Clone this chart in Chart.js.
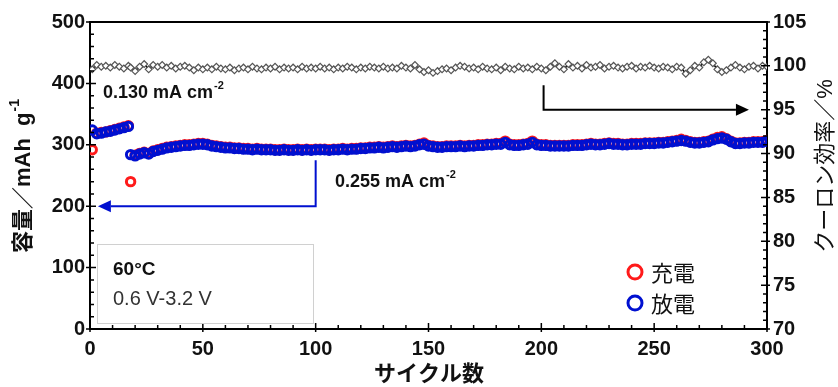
<!DOCTYPE html>
<html>
<head>
<meta charset="utf-8">
<script src="https://cdn.jsdelivr.net/npm/chart.js@4/dist/chart.umd.min.js"></script>
<style>
  html, body { margin: 0; padding: 0; background: #fff; }
  #wrap { width: 838px; height: 387px; }
</style>
</head>
<body>
<div id="wrap"><canvas id="cycleChart" width="838" height="387"></canvas></div>
<script>
// サイクル数（2サイクルおきに読み取り）
const cycles = [1, 3, 5, 7, 9, 11, 13, 15, 17,
  18, 20, 22, 24, 26, 28, 30, 32, 34, 36, 38, 40, 42, 44, 46, 48, 50,
  52, 54, 56, 58, 60, 62, 64, 66, 68, 70, 72, 74, 76, 78, 80, 82, 84, 86, 88, 90, 92, 94, 96, 98, 100,
  102, 104, 106, 108, 110, 112, 114, 116, 118, 120, 122, 124, 126, 128, 130, 132, 134, 136, 138, 140, 142, 144, 146, 148, 150,
  152, 154, 156, 158, 160, 162, 164, 166, 168, 170, 172, 174, 176, 178, 180, 182, 184, 186, 188, 190, 192, 194, 196, 198, 200,
  202, 204, 206, 208, 210, 212, 214, 216, 218, 220, 222, 224, 226, 228, 230, 232, 234, 236, 238, 240, 242, 244, 246, 248, 250,
  252, 254, 256, 258, 260, 262, 264, 266, 268, 270, 272, 274, 276, 278, 280, 282, 284, 286, 288, 290, 292, 294, 296, 298, 300];

// 充電容量 (mAh/g)
const chargeCap = [292, 319, 320, 321, 323, 325, 327, 329, 331,
  240, 283, 286, 288, 286, 290, 292, 294, 296, 297, 298, 299, 300, 300, 301, 302, 302,
  301, 299, 298, 297, 296, 296, 295, 295, 294, 294, 293, 294, 293, 293, 293, 292, 292, 293, 292, 292, 293, 292, 293, 292, 293,
  293, 293, 292, 293, 293, 294, 293, 294, 294, 295, 295, 296, 296, 297, 296, 297, 298, 297, 298, 299, 298, 299, 301, 303, 299,
  298, 297, 297, 298, 298, 298, 299, 298, 299, 299, 300, 300, 301, 301, 302, 302, 306, 301, 300, 300, 301, 302, 306, 301, 300,
  300, 299, 299, 299, 299, 299, 300, 300, 300, 301, 302, 301, 301, 302, 303, 302, 302, 301, 301, 302, 302, 302, 303, 303, 303,
  304, 304, 305, 306, 307, 309, 307, 305, 304, 304, 305, 306, 309, 312, 313, 310, 306, 303, 303, 304, 304, 305, 305, 305, 307];

// 放電容量 (mAh/g)
const dischargeCap = [324, 318, 319, 321, 322, 324, 326, 328, 330,
  284, 282, 285, 287, 285, 289, 291, 293, 295, 296, 297, 298, 299, 299, 300, 301, 301,
  300, 298, 297, 296, 295, 295, 294, 294, 293, 293, 292, 293, 292, 292, 292, 291, 291, 292, 291, 291, 292, 291, 292, 291, 292,
  292, 292, 291, 292, 292, 293, 292, 293, 293, 294, 294, 295, 295, 296, 295, 296, 297, 296, 297, 298, 297, 298, 300, 301, 298,
  297, 296, 296, 297, 297, 297, 298, 297, 298, 298, 299, 299, 300, 300, 301, 301, 304, 300, 299, 299, 300, 301, 304, 300, 299,
  299, 298, 298, 298, 298, 298, 299, 299, 299, 300, 301, 300, 300, 301, 302, 301, 301, 300, 300, 301, 301, 301, 302, 302, 302,
  303, 303, 304, 305, 306, 307, 306, 304, 303, 303, 304, 305, 308, 310, 311, 309, 305, 302, 302, 303, 303, 304, 304, 304, 306];

// クーロン効率 (%)
const coulombEff = [99.6, 100.1, 99.9, 100.0, 99.8, 100.1, 99.9, 99.7, 100.0,
  99.8, 99.4, 99.9, 100.2, 99.6, 100.1, 99.9, 100.1, 99.8, 100.0, 99.7, 99.9, 100.0, 99.8, 99.5, 99.8, 99.6,
  99.8, 99.6, 99.9, 99.7, 99.6, 99.8, 99.5, 99.7, 99.8, 99.6, 99.9, 99.7, 99.6, 99.8, 99.7, 99.9, 99.6, 99.8, 99.7, 99.8, 99.6, 99.9, 99.7, 99.8, 99.7,
  99.9, 99.7, 99.8, 99.6, 99.8, 99.7, 99.9, 99.8, 99.6, 99.8, 99.7, 99.9, 99.8, 99.7, 99.9, 99.7, 99.8, 99.7, 100.0, 99.8, 99.7, 100.1, 99.6, 99.3, 99.5,
  99.2, 99.4, 99.6, 99.7, 99.5, 99.8, 100.0, 99.9, 99.7, 99.8, 99.6, 99.9, 99.7, 99.6, 99.8, 99.5, 99.9, 99.7, 99.6, 99.9, 99.7, 99.8, 99.6, 99.9, 99.7,
  99.5, 99.9, 100.3, 99.9, 99.6, 100.2, 99.8, 100.0, 99.7, 100.1, 99.8, 99.9, 100.1, 99.7, 99.9, 100.0, 99.8, 99.7, 99.9, 100.0, 99.7, 99.9, 99.8, 100.0, 99.8,
  99.7, 99.9, 99.8, 99.6, 99.9, 99.8, 99.1, 99.5, 100.0, 99.8, 100.4, 100.7, 100.3, 99.6, 99.3, 99.5, 99.8, 100.1, 99.8, 99.6, 99.9, 100.0, 99.7, 100.0, 99.9];

const xTicks = [0, 50, 100, 150, 200, 250, 300];
const capTicks = [0, 100, 200, 300, 400, 500];
const ceTicks = [70, 75, 80, 85, 90, 95, 100, 105];

const LATIN = '"Liberation Sans", Arial, "Noto Sans CJK JP"';
const JP = '"Liberation Sans", "Noto Sans CJK JP"';
const BLUE = '#0010d0';
const RED = '#ff1a1a';

const toPoints = arr => cycles.map((c, i) => ({ x: c, y: arr[i] }));

// 上辺の枠・小目盛り・注釈・軸タイトル
const decorPlugin = {
  id: 'decor',
  afterDraw(chart) {
    const { ctx, chartArea: a, scales } = chart;
    const xs = scales.x, yl = scales.y, yr = scales.y2;
    ctx.save();
    ctx.strokeStyle = '#000';
    ctx.lineWidth = 2;
    ctx.beginPath();
    ctx.moveTo(a.left - 1, a.top);
    ctx.lineTo(a.right + 1, a.top);
    ctx.stroke();

    // 目盛り
    ctx.lineWidth = 1.5;
    ctx.beginPath();
    for (let v = 0; v <= 300; v += 10) {
      const px = xs.getPixelForValue(v);
      const major = v % 50 === 0;
      ctx.moveTo(px, a.bottom + (major ? 3 : 0));
      ctx.lineTo(px, a.bottom - (major ? 6 : 4));
    }
    for (let v = 0; v <= 500; v += 20) {
      const py = yl.getPixelForValue(v);
      const major = v % 100 === 0;
      ctx.moveTo(a.left - (major ? 4 : 0), py);
      ctx.lineTo(a.left + (major ? 6 : 4), py);
    }
    for (let v = 70; v <= 105; v += 1) {
      const py = yr.getPixelForValue(v);
      const major = v % 5 === 0;
      ctx.moveTo(a.right + (major ? 3 : 0), py);
      ctx.lineTo(a.right - (major ? 6 : 4), py);
    }
    ctx.stroke();

    // 矢印
    function arrow(pts, color, dir) {
      ctx.strokeStyle = color;
      ctx.fillStyle = color;
      ctx.lineWidth = 2;
      const tip = pts[pts.length - 1];
      const head = 13;
      ctx.beginPath();
      ctx.moveTo(pts[0][0], pts[0][1]);
      for (let i = 1; i < pts.length - 1; i++) ctx.lineTo(pts[i][0], pts[i][1]);
      ctx.lineTo(tip[0] - dir * head, tip[1]);
      ctx.stroke();
      ctx.beginPath();
      ctx.moveTo(tip[0], tip[1]);
      ctx.lineTo(tip[0] - dir * head, tip[1] - 6);
      ctx.lineTo(tip[0] - dir * head, tip[1] + 6);
      ctx.closePath();
      ctx.fill();
    }
    arrow([
      [xs.getPixelForValue(100), yl.getPixelForValue(275)],
      [xs.getPixelForValue(100), yl.getPixelForValue(200)],
      [xs.getPixelForValue(3.5), yl.getPixelForValue(200)]
    ], BLUE, -1);
    arrow([
      [xs.getPixelForValue(201), yr.getPixelForValue(97.8)],
      [xs.getPixelForValue(201), yr.getPixelForValue(95)],
      [xs.getPixelForValue(292), yr.getPixelForValue(95)]
    ], '#000', 1);

    // 上付き文字つきテキスト
    function supText(x, y, base, sup, size, draw) {
      ctx.font = `bold ${size}px ${JP}`;
      const w1 = ctx.measureText(base).width;
      ctx.font = `bold ${Math.round(size * 0.62)}px ${LATIN}`;
      const w2 = ctx.measureText(sup).width;
      if (draw !== false) {
        ctx.textAlign = 'left';
        ctx.textBaseline = 'middle';
        ctx.font = `bold ${size}px ${JP}`;
        ctx.fillText(base, x, y);
        ctx.font = `bold ${Math.round(size * 0.62)}px ${LATIN}`;
        ctx.fillText(sup, x + w1 + 1, y - size * 0.38);
      }
      return w1 + 1 + w2;
    }
    ctx.fillStyle = '#111';
    supText(103, 93, '0.130 mA cm', '-2', 18);
    supText(335, 182, '0.255 mA cm', '-2', 18);

    // 条件ボックス
    ctx.strokeStyle = '#d0d0d0';
    ctx.lineWidth = 1;
    ctx.strokeRect(97.5, 244.5, 216, 79);
    ctx.fillStyle = '#111';
    ctx.textAlign = 'left';
    ctx.textBaseline = 'middle';
    ctx.font = `bold 19px ${LATIN}`;
    ctx.fillText('60°C', 113, 270);
    ctx.fillStyle = '#333';
    ctx.font = `20px ${LATIN}`;
    ctx.fillText('0.6 V-3.2 V', 113, 299);

    // 凡例
    [[RED, '充電', 272], [BLUE, '放電', 303]].forEach(([c, t, y]) => {
      ctx.strokeStyle = c;
      ctx.lineWidth = 3;
      ctx.beginPath();
      ctx.arc(635, y, 7, 0, Math.PI * 2);
      ctx.stroke();
      ctx.fillStyle = '#111';
      ctx.font = `22px "Noto Sans CJK JP"`;
      ctx.fillText(t, 651, y + 1);
    });

    // 軸タイトル
    ctx.fillStyle = '#111';
    ctx.save();
    ctx.translate(24, 176);
    ctx.rotate(-Math.PI / 2);
    const tw = supText(0, 0, '容量／mAh  g', '-1', 22, false);
    supText(-tw / 2, 0, '容量／mAh  g', '-1', 22);
    ctx.restore();

    ctx.save();
    ctx.translate(826, 166);
    ctx.rotate(-Math.PI / 2);
    ctx.textAlign = 'center';
    ctx.textBaseline = 'middle';
    ctx.font = `22px ${JP}`;
    ctx.fillText('クーロン効率／%', 0, 0);
    ctx.restore();

    ctx.textAlign = 'center';
    ctx.textBaseline = 'middle';
    ctx.font = `bold 22px ${JP}`;
    ctx.fillText('サイクル数', 429, 375);
    ctx.restore();
  }
};

const tickFont = { family: LATIN, size: 20, weight: 'bold' };

new Chart(document.getElementById('cycleChart'), {
  type: 'scatter',
  data: {
    datasets: [
      {
        label: '放電',
        data: toPoints(dischargeCap),
        yAxisID: 'y',
        showLine: false,
        pointStyle: 'circle',
        pointRadius: 4.2,
        pointBorderWidth: 3,
        pointBorderColor: BLUE,
        pointBackgroundColor: 'rgba(0,0,0,0)'
      },
      {
        label: '充電',
        data: toPoints(chargeCap),
        yAxisID: 'y',
        showLine: false,
        pointStyle: 'circle',
        pointRadius: 4.2,
        pointBorderWidth: 3,
        pointBorderColor: RED,
        pointBackgroundColor: 'rgba(0,0,0,0)'
      },
      {
        label: 'クーロン効率',
        data: toPoints(coulombEff),
        yAxisID: 'y2',
        showLine: true,
        borderColor: '#000',
        borderWidth: 1.6,
        pointStyle: 'rectRot',
        pointRadius: 3.4,
        pointBorderWidth: 1.2,
        pointBorderColor: '#555',
        pointBackgroundColor: '#fff'
      }
    ]
  },
  options: {
    responsive: false,
    animation: false,
    devicePixelRatio: 1,
    layout: { padding: { top: 22, left: 0, right: 0, bottom: 0 } },
    plugins: { legend: { display: false }, tooltip: { enabled: false } },
    scales: {
      x: {
        type: 'linear',
        min: 0, max: 300,
        afterBuildTicks: s => { s.ticks = xTicks.map(v => ({ value: v })); },
        afterFit: s => { s.height = 58; },
        grid: { display: false, drawTicks: false },
        border: { display: true, color: '#000', width: 2 },
        ticks: { font: tickFont, color: '#111', padding: 8, maxRotation: 0 }
      },
      y: {
        position: 'left',
        min: 0, max: 500,
        afterBuildTicks: s => { s.ticks = capTicks.map(v => ({ value: v })); },
        afterFit: s => { s.width = 90; },
        grid: { display: false, drawTicks: false },
        border: { display: true, color: '#000', width: 2 },
        ticks: { font: tickFont, color: '#111', padding: 5 }
      },
      y2: {
        position: 'right',
        min: 70, max: 105,
        afterBuildTicks: s => { s.ticks = ceTicks.map(v => ({ value: v })); },
        afterFit: s => { s.width = 71; },
        grid: { display: false, drawTicks: false },
        border: { display: true, color: '#000', width: 2 },
        ticks: { font: { family: LATIN, size: 20, weight: 'bold' }, color: '#111', padding: 6 }
      }
    }
  },
  plugins: [decorPlugin]
});
</script>
</body>
</html>
